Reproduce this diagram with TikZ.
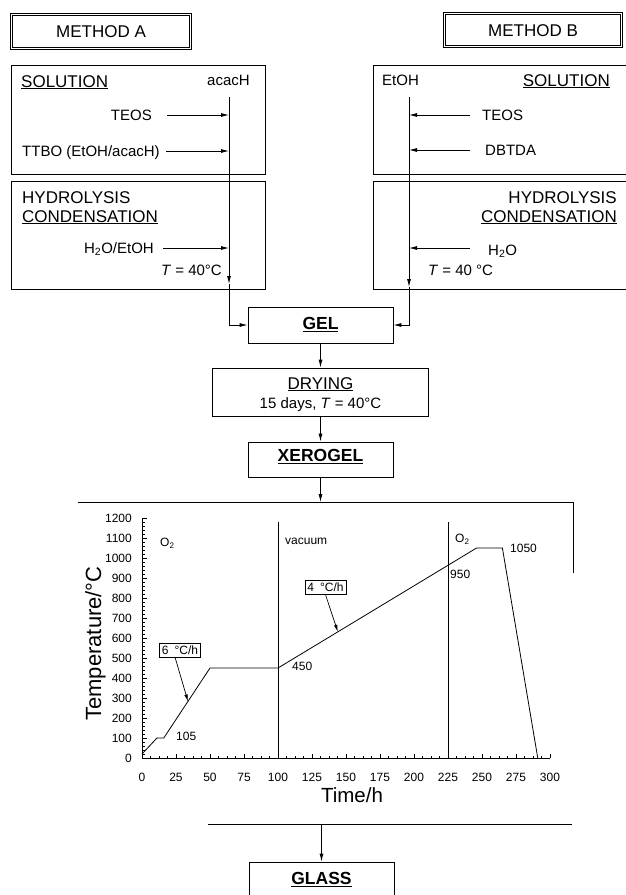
\documentclass[tikz,border=0pt]{standalone}
\usepackage{fontspec}
\setmainfont{Liberation Sans}
\usetikzlibrary{arrows.meta}
\begin{document}
\begin{tikzpicture}[x=1pt,y=-1pt,
  box/.style={draw, line width=0.8pt, inner sep=0pt},
  mbox/.style={draw, double, double distance=1.6pt, line width=0.7pt, inner sep=0pt,
    font=\fontsize{17}{20}\selectfont, text height=12.2pt, text depth=0pt},
  big/.style={inner sep=0pt, font=\fontsize{17}{20}\selectfont, text height=12.2pt, text depth=0pt},
  bigb/.style={inner sep=0pt, font=\fontsize{17.5}{20}\selectfont\bfseries, text height=12.6pt, text depth=0pt},
  med/.style={inner sep=0pt, font=\fontsize{15}{18}\selectfont, text height=10.7pt, text depth=0pt},
  sml/.style={inner sep=0pt, font=\fontsize{12}{14}\selectfont, text height=8.6pt, text depth=0pt},
  ln/.style={line width=0.8pt},
  arr/.style={line width=0.8pt, -{Latex[length=8pt,width=4pt]}},
  sarr/.style={line width=0.7pt, -{Latex[length=7pt,width=3.5pt]}}]
\useasboundingbox (0,0) rectangle (625,895);

% ---------- method boxes ----------
\node[mbox, minimum width=179pt, minimum height=34pt] (ma) at (101,31.5) {METHOD A};
\node[mbox, minimum width=177pt, minimum height=33pt] (mb) at (533,30) {METHOD B};

% ---------- process boxes ----------
\node[box, minimum width=254pt, minimum height=109pt] (sola) at (138,119.5) {};
\node[box, minimum width=254pt, minimum height=108pt] (hyda) at (138,235) {};
\node[box, minimum width=253pt, minimum height=109pt] (solb) at (499.5,119.5) {};
\node[box, minimum width=253pt, minimum height=108pt] (hydb) at (499.5,235) {};

% ---------- method A texts ----------
\node[big, anchor=west] (tsa) at (21,81) {\underline{SOLUTION}};
\node[med, anchor=west] (tacac) at (207,80) {acacH};
\node[med, anchor=east] (tteosa) at (152,115) {TEOS};
\node[med, anchor=west] (tttbo) at (22,151) {TTBO (EtOH/acacH)};
\node[big, anchor=west] (thya) at (22,197) {HYDROLYSIS};
\node[big, anchor=west] (tcoa) at (22,216) {\underline{CONDENSATION}};
\node[med, anchor=east] (th2oa) at (154,248) {H\textsubscript{2}O/EtOH};
\node[med, anchor=east] (tta) at (222,270) {\textit{T} = 40°C};

% ---------- method B texts ----------
\node[med, anchor=west] (tetoh) at (382,80) {EtOH};
\node[big, anchor=east] (tsb) at (610,80) {\underline{SOLUTION}};
\node[med, anchor=west] (tteosb) at (482,115) {TEOS};
\node[med, anchor=west] (tdbtda) at (485,150) {DBTDA};
\node[big, anchor=east] (thyb) at (617,197) {HYDROLYSIS};
\node[big, anchor=east] (tcob) at (617,216) {\underline{CONDENSATION}};
\node[med, anchor=west] (th2ob) at (488,250) {H\textsubscript{2}O};
\node[med, anchor=west] (ttb) at (428,270) {\textit{T} = 40 °C};

% ---------- central chain ----------
\node[box, minimum width=145pt, minimum height=36pt] (gel) at (320.5,325) {};
\node[bigb] (tgel) at (320.5,323) {\underline{GEL}};
\node[box, minimum width=216pt, minimum height=48pt] (dry) at (320,392) {};
\node[big] (tdry) at (320.5,383) {\underline{DRYING}};
\node[med] (tdry2) at (320.5,403) {15 days, \textit{T} = 40°C};
\node[box, minimum width=145pt, minimum height=35pt] (xero) at (320.5,459.5) {};
\node[bigb] (txero) at (320.5,455) {\underline{XEROGEL}};
\node[box, minimum width=145pt, minimum height=38pt] (glass) at (321.5,881) {};
\node[bigb] (tglass) at (321.5,878.5) {\underline{GLASS}};

% ---------- method A flow ----------
\coordinate (atop) at (229,97);
\coordinate (amid) at (229,284);
\coordinate (ia1) at (167,115);
\coordinate (ia2) at (166,151);
\coordinate (ia3) at (163,248);
\draw[arr] (atop) -- (amid);
\draw[arr] (amid) |- (gel.west);
\draw[arr] (ia1) -- (ia1 -| atop);
\draw[arr] (ia2) -- (ia2 -| atop);
\draw[arr] (ia3) -- (ia3 -| atop);

% ---------- method B flow ----------
\coordinate (btop) at (409,97);
\coordinate (bmid) at (409,287);
\coordinate (ib1) at (470,115);
\coordinate (ib2) at (470,150);
\coordinate (ib3) at (470,248);
\draw[arr] (btop) -- (bmid);
\draw[arr] (bmid) |- (gel.east);
\draw[arr] (ib1) -- (ib1 -| btop);
\draw[arr] (ib2) -- (ib2 -| btop);
\draw[arr] (ib3) -- (ib3 -| btop);

% ---------- chain arrows ----------
\coordinate (ftop) at (320.5,502);
\coordinate (fbot) at (321.5,824);
\draw[arr] (gel.south) -- (gel.south |- dry.north);
\draw[arr] (dry.south -| gel.south) -- (xero.north);
\draw[arr] (xero.south) -- (ftop);
\draw[arr] (fbot) -- (glass.north);

% ---------- frame ----------
\draw[ln] (78,502) -- (573,502) -- (573,573);
\draw[ln] (208,824) -- (572,824);

% ---------- axis titles ----------
\node[rotate=90, anchor=base, inner sep=0pt, font=\fontsize{22}{26}\selectfont] (ylab) at (101,643.5) {Temperature/°C};
\node[inner sep=0pt, font=\fontsize{20.5}{24}\selectfont, text height=14.7pt, text depth=0pt] (xlab) at (352,795) {Time/h};

% ---------- plot ----------
\begin{scope}[shift={(142,758)}, x=1.36pt, y=0.2pt]
  \draw[ln] (0,1200) -- (0,0) -- (300,0);
  \foreach \T in {0,20,...,1200} \draw[line width=0.6pt] (0,\T) -- ++(2.5pt,0pt);
  \foreach \T in {0,100,...,1200} {
    \draw[line width=0.6pt] (0,\T) -- ++(4.5pt,0pt);
    \node[sml, anchor=east] at ([xshift=-10pt]0,\T) {\T};
  }
  \foreach \t in {0,6.25,...,300} \draw[line width=0.6pt] (\t,0) -- ++(0pt,2.5pt);
  \foreach \t in {0,25,...,300} {
    \draw[line width=0.6pt] (\t,0) -- ++(0pt,4pt);
    \node[sml] at ([yshift=-19pt]\t,0) {\t};
  }
  \draw[ln] (100,0) -- (100,1180);
  \draw[ln] (225,0) -- (225,1180);
  \draw[ln] (0,20) -- (11,100) -- (16,100) -- (50,450) -- (100,450)
            -- (246,1050) -- (265,1050) -- (291,0);
  \coordinate (p6) at (33.8,283);
  \coordinate (p4) at (144,631);
\end{scope}

% ---------- plot labels ----------
\node[sml, anchor=west] (o2a) at (160,542) {O\textsubscript{2}};
\node[sml, anchor=west] (vac) at (285,540) {vacuum};
\node[sml, anchor=west] (o2b) at (455,538) {O\textsubscript{2}};
\node[sml, anchor=west] (l950) at (450,574) {950};
\node[sml, anchor=west] (l1050) at (510,548) {1050};
\node[sml, anchor=west] (l450) at (292,666) {450};
\node[sml, anchor=west] (l105) at (176,736) {105};
\node[draw, line width=0.6pt, sml, inner xsep=2.5pt, inner ysep=2.5pt] (r6) at (180,650) {6\enspace°C/h};
\node[draw, line width=0.6pt, sml, inner xsep=2.5pt, inner ysep=2.5pt] (r4) at (325.5,587.5) {4\enspace°C/h};
\draw[sarr] ([xshift=-5pt]r6.south) -- (p6);
\draw[sarr] (r4.south) -- (p4);
\end{tikzpicture}
\end{document}
